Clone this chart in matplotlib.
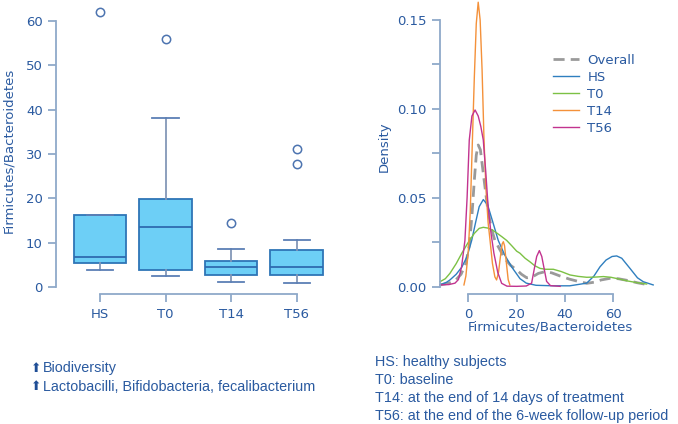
import matplotlib
matplotlib.use("Agg")
import matplotlib.pyplot as plt
from matplotlib.ticker import MultipleLocator

# ---------------- data ----------------
groups = ["HS", "T0", "T14", "T56"]
whisk_lo = [4.0, 2.5, 1.3, 0.9]
q1 = [5.5, 3.8, 2.8, 2.8]
median = [6.8, 13.6, 4.6, 4.6]
q3 = [16.2, 19.8, 6.0, 8.3]
whisk_hi = [16.2, 38.2, 8.7, 10.7]
outliers = [[62.0], [55.8], [14.5], [27.7, 31.2]]

ov_x = [-11.7, -8, -5, -3, -1, 0.5, 1.5, 2.5, 3.3, 4.1, 5, 6, 7, 8, 9.5, 11, 13, 15,
        17.5, 20, 22, 24.2, 26.5, 29, 31.7, 34.5, 38, 42, 46, 49, 52, 55, 58.6, 62,
        66, 70, 74]
ov_d = [0.001, 0.002, 0.004, 0.007, 0.013, 0.024, 0.040, 0.060, 0.074, 0.0797, 0.077,
        0.066, 0.055, 0.044, 0.033, 0.026, 0.021, 0.016, 0.012, 0.0095, 0.0070, 0.0050,
        0.0055, 0.0075, 0.0084, 0.0078, 0.0060, 0.0042, 0.0028, 0.0019, 0.0025, 0.0038,
        0.0047, 0.0045, 0.0035, 0.0022, 0.0012]

hs_x = [-11.7, -9, -7.6, -5, -2.7, -0.5, 1.4, 3, 4.5, 6.2, 8, 10, 12.4, 15, 18, 21.4,
        24, 28, 35, 42, 49, 52, 54.5, 57, 59.5, 61.4, 63.5, 66.9, 70, 72.4, 76.5]
hs_d = [0.001, 0.0025, 0.0038, 0.0070, 0.011, 0.017, 0.026, 0.036, 0.045, 0.049, 0.046,
        0.037, 0.026, 0.018, 0.011, 0.0045, 0.002, 0.0008, 0.0005, 0.0005, 0.002, 0.006,
        0.0112, 0.0150, 0.0170, 0.0173, 0.0160, 0.0103, 0.0050, 0.0028, 0.001]

t0_x = [-11.7, -9.5, -7.6, -5, -2.7, 0, 2.5, 4.5, 6.2, 8, 10, 12, 14, 15.9, 18, 20,
        21.4, 23.5, 25.5, 27.5, 29.7, 32, 35.2, 38.5, 42.1, 45.5, 49, 52.5, 55.9, 59,
        62.8, 66, 69.7, 73.8]
t0_d = [0.0028, 0.0045, 0.0075, 0.013, 0.0188, 0.025, 0.030, 0.0328, 0.0334, 0.0330,
        0.0318, 0.0300, 0.0280, 0.026, 0.023, 0.020, 0.0188, 0.016, 0.014, 0.0118,
        0.0103, 0.0098, 0.0098, 0.0085, 0.0066, 0.0058, 0.0053, 0.0054, 0.0057, 0.0053,
        0.0042, 0.0032, 0.0023, 0.0015]

t14_x = [-1.8, -1.0, 0, 0.8, 1.7, 2.5, 3.3, 4.1, 4.9, 5.7, 6.5, 7.3, 8.2, 9, 10, 11,
         11.7, 12.5, 13.3, 14, 14.5, 15, 15.7, 16.5, 17.2]
t14_d = [0.001, 0.006, 0.020, 0.042, 0.0825, 0.118, 0.148, 0.160, 0.150, 0.122, 0.0825,
         0.055, 0.036, 0.026, 0.013, 0.0055, 0.0038, 0.008, 0.017, 0.024, 0.0253, 0.023,
         0.014, 0.004, 0.001]

t56_x = [-11.7, -8, -5.5, -4.1, -2.8, -1.4, -0.5, 0.4, 1.5, 2.8, 4.1, 5.2, 6.2, 7.2,
         8.2, 9.4, 10.6, 12.2, 13.8, 16, 20, 24, 26.2, 27.3, 28.3, 29.4, 30.4, 31.4,
         32.4, 34, 38]
t56_d = [0.001, 0.0012, 0.002, 0.004, 0.011, 0.026, 0.050, 0.0825, 0.096, 0.0994,
         0.096, 0.090, 0.0825, 0.065, 0.045, 0.030, 0.0188, 0.008, 0.0019, 0.0003,
         0.0002, 0.0004, 0.002, 0.010, 0.017, 0.0203, 0.017, 0.010, 0.003, 0.0006, 0.0002]

legend_labels = ["Overall", "HS", "T0", "T14", "T56"]
notes_left = ["Biodiversity", "Lactobacilli, Bifidobacteria, fecalibacterium"]
notes_right = ["HS: healthy subjects", "T0: baseline",
               "T14: at the end of 14 days of treatment",
               "T56: at the end of the 6-week follow-up period"]

# ---------------- style ----------------
TXT = "#2a5aa0"
SPINE = "#8fa9c9"
W, H = 678, 424
plt.rcParams["font.family"] = ["DejaVu Sans"]

fig = plt.figure(figsize=(W / 100, H / 100), dpi=100)

def fx(px):
    return px / W

def fy(py):
    return 1 - py / H

# ---------------- left: boxplot ----------------
ppu_y = (287.3 - 20.7) / 60
ymin, ymax = -1.5, 63.0
ppu_x = (296.7 - 100) / 3
xmin, xmax = 1 - (100 - 56) / ppu_x, 4.55
axL = fig.add_axes([fx(56), fy(287.3 + (0 - ymin) * ppu_y),
                    (xmax - xmin) * ppu_x / W, (ymax - ymin) * ppu_y / H])
stats = []
for i, g in enumerate(groups):
    stats.append(dict(label=g, whislo=whisk_lo[i], q1=q1[i], med=median[i],
                      q3=q3[i], whishi=whisk_hi[i], fliers=outliers[i]))
axL.bxp(stats, positions=[1, 2, 3, 4], widths=0.8, patch_artist=True,
        boxprops=dict(facecolor="#6dcff6", edgecolor="#2e75b6", linewidth=1.3),
        medianprops=dict(color="#2e6bb0", linewidth=1.3),
        whiskerprops=dict(color="#8497b8", linewidth=1.3),
        capprops=dict(color="#5c7fb5", linewidth=1.3),
        flierprops=dict(marker="o", markerfacecolor="white", markeredgecolor="#4d74b0",
                        markersize=6, markeredgewidth=1.1),
        capwidths=0.4)
for l in axL.lines:
    l.set_clip_on(False)
axL.set_xlim(xmin, xmax)
axL.set_ylim(ymin, ymax)
axL.set_yticks([0, 10, 20, 30, 40, 50, 60])
axL.set_xticks([1, 2, 3, 4])
axL.set_xticklabels(groups)
for s in ["top", "right"]:
    axL.spines[s].set_visible(False)
axL.spines["left"].set_bounds(0, 60)
axL.spines["bottom"].set_bounds(1, 4)
for s in ["left", "bottom"]:
    axL.spines[s].set_color(SPINE)
    axL.spines[s].set_linewidth(1.3)
axL.tick_params(colors=SPINE, labelcolor=TXT, labelsize=9.5, length=6, width=1.3)
axL.tick_params(axis="x", pad=4)
axL.set_ylabel("Firmicutes/Bacteroidetes", color=TXT, fontsize=9.5, labelpad=8)

# ---------------- right: density ----------------
ppd = (286.7 - 20) / 0.15
dmin, dmax = -(294 - 286.7) / ppd, 0.162
ppx = (613.3 - 468.3) / 60
rxmin, rxmax = -(468.3 - 440) / ppx, (660 - 468.3) / ppx
axR = fig.add_axes([fx(440), fy(294), (rxmax - rxmin) * ppx / W, (dmax - dmin) * ppd / H])
axR.plot(ov_x, ov_d, color="#9a9a9a", lw=2.0, dashes=(4, 2.2), label="Overall")
axR.plot(hs_x, hs_d, color="#2f7fbf", lw=1.0, label="HS")
axR.plot(t0_x, t0_d, color="#7cc144", lw=1.0, label="T0")
axR.plot(t14_x, t14_d, color="#f4913a", lw=1.0, label="T14")
axR.plot(t56_x, t56_d, color="#c2338f", lw=1.0, label="T56")
for l in axR.lines:
    l.set_clip_on(False)
axR.set_xlim(rxmin, rxmax)
axR.set_ylim(dmin, dmax)
axR.set_yticks([0, 0.05, 0.10, 0.15])
axR.set_yticklabels(["0.00", "0.05", "0.10", "0.15"])
axR.yaxis.set_minor_locator(MultipleLocator(0.025))
axR.set_xticks([0, 20, 40, 60])
for s in ["top", "right"]:
    axR.spines[s].set_visible(False)
axR.spines["left"].set_bounds(0, 0.15)
axR.spines["bottom"].set_bounds(0, 60)
for s in ["left", "bottom"]:
    axR.spines[s].set_color(SPINE)
    axR.spines[s].set_linewidth(1.3)
axR.tick_params(which="both", colors=SPINE, labelcolor=TXT, labelsize=9.5, length=6, width=1.3)
axR.tick_params(axis="x", pad=4)
axR.set_ylabel("Density", color=TXT, fontsize=9.5, labelpad=5)
axR.set_xlabel("Firmicutes/Bacteroidetes", color=TXT, fontsize=9.5, labelpad=0)
leg = axR.legend(loc="upper left", bbox_to_anchor=(fx(553), fy(54)),
                 bbox_transform=fig.transFigure, frameon=False, fontsize=9.5,
                 handlelength=2.0, handletextpad=0.6, labelspacing=0.3,
                 borderaxespad=0, borderpad=0)
for t in leg.get_texts():
    t.set_color(TXT)

# ---------------- notes ----------------
nf = ["Liberation Sans", "DejaVu Sans"]
for i, t in enumerate(notes_left):
    y = fy(368 + i * 19)
    fig.text(fx(31), y, "\u2b06", color="#1f4e96", fontsize=9, va="center",
             family=["DejaVu Sans"])
    fig.text(fx(43), y, t, color=TXT, fontsize=10.4, va="center", family=nf)
for i, t in enumerate(notes_right):
    fig.text(fx(375), fy(362 + i * 18), t, color=TXT, fontsize=10.4, va="center", family=nf)

fig.savefig("out.png", dpi=100)
